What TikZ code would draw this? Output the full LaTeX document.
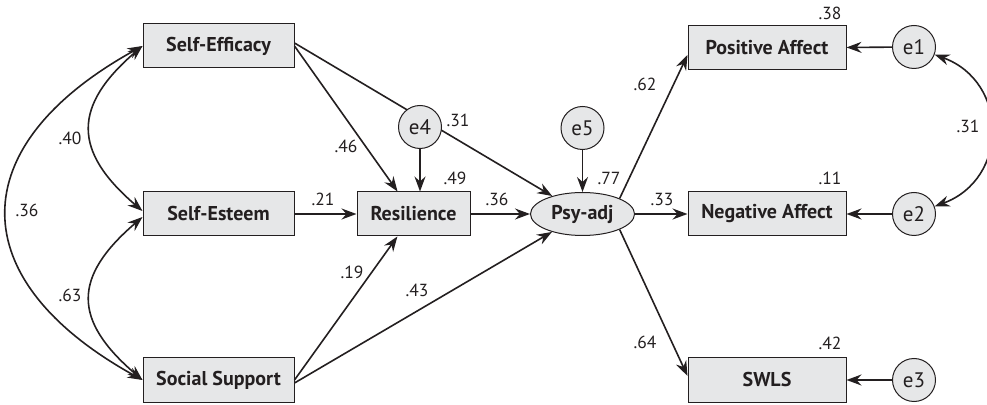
\documentclass[tikz,border=0pt]{standalone}
\usepackage{fontspec}
\setmainfont{PT Sans}
\usetikzlibrary{shapes.geometric, arrows.meta, positioning, calc}

\definecolor{boxfill}{HTML}{E6E7E8}
\definecolor{ink}{HTML}{231F20}

\begin{document}
\begin{tikzpicture}[x=1pt, y=1pt, color=ink,
    >={Stealth[length=15pt, width=11pt, inset=5pt]},
    box/.style={rectangle, draw, fill=boxfill, line width=1pt, minimum height=44pt, inner sep=0pt, font=\fontsize{20}{22}\selectfont\bfseries},
    latent/.style={ellipse, draw, fill=boxfill, line width=1pt, minimum width=104pt, minimum height=43pt, inner sep=0pt, font=\fontsize{20}{22}\selectfont\bfseries},
    err/.style={circle, draw, fill=boxfill, line width=1pt, minimum size=43pt, inner sep=0pt, font=\fontsize{21}{22}\selectfont},
    coef/.style={inner sep=0pt, font=\fontsize{17.5}{20}\selectfont},
    link/.style={->, line width=1.6pt},
    cov/.style={<->, line width=1.6pt}]
    \useasboundingbox (0,0) rectangle (987,404);

    % Nodes
    \node (se) [box, minimum width=151pt] at (218.5,358) {Self-Efficacy};
    \node (sest) [box, minimum width=151pt] at (218.5,190) {Self-Esteem};
    \node (ss) [box, minimum width=151pt] at (218.5,24) {Social Support};
    \node (res) [box, minimum width=113pt] at (413.5,190) {Resilience};
    \node (psy) [latent] at (582.5,190) {Psy-adj};
    \node (e5) [err] at (582.5,276) {e5};
    \node (pa) [box, minimum width=158pt] at (767,356) {Positive Affect};
    \node (na) [box, minimum width=158pt] at (767,190) {Negative Affect};
    \node (swls) [box, minimum width=158pt] at (767,24) {SWLS};
    \node (e1) [err] at (914,357) {e1};
    \node (e2) [err] at (914,190) {e2};
    \node (e3) [err] at (914,24) {e3};

    % direct path runs behind e4
    \draw[link] ([yshift=3pt]se.east) -- (psy);
    \node (e4) [err] at (420,277) {e4};

    % Arrows
    \draw[link] (se.east) -- (res);
    \draw[link] (sest) -- (res);
    \draw[link] (ss.east) -- (res);
    \draw[link] ([yshift=-3pt]ss.east) -- (psy);
    \draw[link] (e4) -- (e4 |- res.north);
    \draw[link] (res) -- (psy);
    \draw[link] (e5) -- (psy);
    \draw[link] (psy.north east) -- ([yshift=-7pt]pa.west);
    \draw[link] (psy) -- (na);
    \draw[link] (psy.south east) -- ([yshift=4pt]swls.west);
    \draw[link] (e1) -- (pa);
    \draw[link] (e2) -- (na);
    \draw[link] (e3) -- (swls);

    % Correlations
    \draw[cov] (se.west) .. controls +(-181,-100) and +(-181,100) .. (ss.west);
    \draw[cov] (se.west) .. controls +(-70,-60) and +(-70,60) .. ([yshift=3pt]sest.west);
    \draw[cov] ([yshift=-3pt]sest.west) .. controls +(-70,-60) and +(-70,60) .. (ss.west);
    \draw[cov] (e1) .. controls +(95,-35) and +(95,35) .. (e2);

    % Coefficients
    \node (c40) [coef] at (70,266) {.40};
    \node (c36a) [coef] at (27,194) {.36};
    \node (c63) [coef] at (70,109) {.63};
    \node (c46) [coef] at (346,258) {.46};
    \node (c31a) [coef] at (458,284) {.31};
    \node (r49) [coef] at (455,226) {.49};
    \node (c21) [coef] at (323,205) {.21};
    \node (c19) [coef] at (352,132) {.19};
    \node (c43) [coef] at (417,114) {.43};
    \node (c36b) [coef] at (497,205) {.36};
    \node (r77) [coef] at (609,226) {.77};
    \node (c62) [coef] at (645,320) {.62};
    \node (c33) [coef] at (662,205) {.33};
    \node (c64) [coef] at (645,62) {.64};
    \node (r38) [coef] at (830,391) {.38};
    \node (r11) [coef] at (830,226) {.11};
    \node (r42) [coef] at (830,61) {.42};
    \node (c31b) [coef] at (968,278) {.31};
\end{tikzpicture}
\end{document}
